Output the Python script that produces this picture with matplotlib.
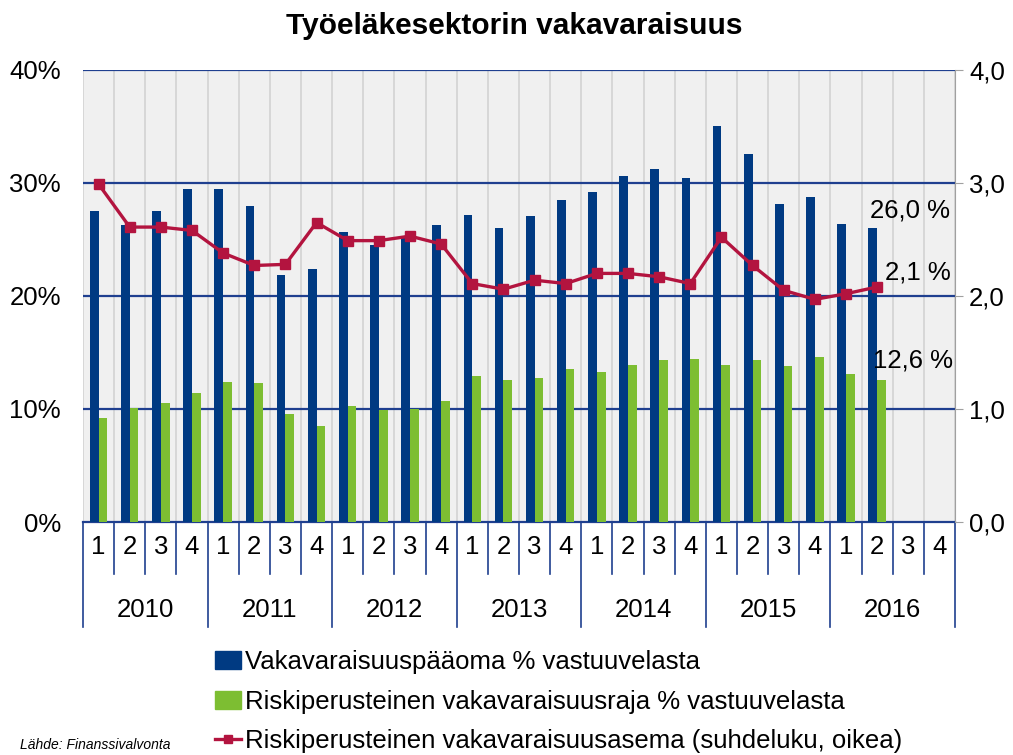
import matplotlib
matplotlib.use("Agg")
import matplotlib.pyplot as plt
from matplotlib.lines import Line2D
from matplotlib.patches import Patch
import matplotlib.transforms as mtransforms
import numpy as np

years = ["2010", "2011", "2012", "2013", "2014", "2015", "2016"]
quarters = ["1", "2", "3", "4"]

# vakavaraisuuspääoma % vastuuvelasta (2016 Q3-Q4 puuttuu)
capital = [27.5, 26.3, 27.5, 29.5,
           29.5, 28.0, 21.9, 22.4,
           25.7, 24.5, 25.2, 26.3,
           27.2, 26.0, 27.1, 28.5,
           29.2, 30.6, 31.2, 30.4,
           35.0, 32.6, 28.1, 28.8,
           26.4, 26.0]
# riskiperusteinen vakavaraisuusraja % vastuuvelasta
limit = [9.2, 10.1, 10.5, 11.4,
         12.4, 12.3, 9.6, 8.5,
         10.3, 9.9, 10.0, 10.7,
         12.9, 12.6, 12.7, 13.5,
         13.3, 13.9, 14.3, 14.4,
         13.9, 14.3, 13.8, 14.6,
         13.1, 12.6]
# suhdeluku (oikea akseli)
ratio = [2.99, 2.61, 2.61, 2.58,
         2.38, 2.27, 2.28, 2.65,
         2.49, 2.49, 2.53, 2.46,
         2.11, 2.06, 2.14, 2.11,
         2.20, 2.20, 2.17, 2.11,
         2.52, 2.27, 2.05, 1.97,
         2.02, 2.08]

left_ticks = [0, 10, 20, 30, 40]
right_ticks = [0.0, 1.0, 2.0, 3.0, 4.0]

BLUE = "#003A82"
GREEN = "#7DBE32"
RED = "#B3143F"
NAVY = "#1F3F8F"
FS = 18.5

plt.rcParams["font.family"] = ["Liberation Sans", "DejaVu Sans"]

fig = plt.figure(figsize=(10.13, 7.55), dpi=100)
ax = fig.add_axes([83 / 1013, 1 - 522 / 755, (955 - 83) / 1013, (522 - 70) / 755])
ax.set_facecolor("#F0F0F0")

n_slots = len(years) * len(quarters)
x = np.arange(len(capital))
w = 0.28
ax.bar(x - w / 2, capital, width=w, color=BLUE, zorder=3)
ax.bar(x + w / 2, limit, width=w, color=GREEN, zorder=3)

for b in np.arange(n_slots + 1) - 0.5:
    ax.axvline(b, color="#D2D2D2", lw=1.2, zorder=1)
for t in left_ticks[1:]:
    ax.axhline(t, color=NAVY, lw=1.6, zorder=2)

ax.set_xlim(-0.5, n_slots - 0.5)
ax.set_ylim(0, 40)
ax.set_yticks(left_ticks)
ax.set_yticklabels([f"{t}%" for t in left_ticks], fontsize=FS)
ax.tick_params(axis="y", length=0, pad=16)
ax.set_xticks([])
for s in ["top", "right", "left"]:
    ax.spines[s].set_visible(False)
ax.spines["bottom"].set_color(NAVY)
ax.spines["bottom"].set_linewidth(1.6)

ax2 = ax.twinx()
ax2.plot(x, ratio, color=RED, lw=2.4, marker="s", markersize=7, zorder=5)
ax2.set_ylim(0, 4)
ax2.set_yticks(right_ticks)
ax2.set_yticklabels([f"{t:.1f}".replace(".", ",") for t in right_ticks], fontsize=FS)
ax2.tick_params(axis="y", length=6, color="#A0A0A0", pad=4)
for s in ["top", "left", "bottom"]:
    ax2.spines[s].set_visible(False)
ax2.spines["right"].set_color("#A0A0A0")

# kaksitasoinen luokka-akseli
trans = mtransforms.blended_transform_factory(ax.transData, ax.transAxes)
for i in range(n_slots):
    ax.text(i, -0.055, quarters[i % 4], transform=trans, ha="center", va="center", fontsize=FS)
    edge = i - 0.5
    depth = -0.232 if i % 4 == 0 else -0.115
    ax.plot([edge, edge], [0, depth], transform=trans, color=NAVY, lw=1.2, clip_on=False)
ax.plot([n_slots - 0.5] * 2, [0, -0.232], transform=trans, color=NAVY, lw=1.2, clip_on=False)
for j, yr in enumerate(years):
    ax.text(j * 4 + 1.5, -0.195, yr, transform=trans, ha="center", va="center", fontsize=FS)

# arvot oikeassa reunassa
ax.text(27.35, 27.6, "26,0 %", ha="right", va="center", fontsize=FS, zorder=6)
ax.text(27.35, 22.1, "2,1 %", ha="right", va="center", fontsize=FS, zorder=6)
ax.text(27.45, 14.3, "12,6 %", ha="right", va="center", fontsize=FS, zorder=6)

fig.text(0.508, 1 - 26 / 755, "Työeläkesektorin vakavaraisuus", ha="center", va="center",
         fontsize=21.5, fontweight="bold")

handles = [
    Patch(color=BLUE),
    Patch(color=GREEN),
    Line2D([], [], color=RED, lw=2.4, marker="s", markersize=6),
]
labels = [
    "Vakavaraisuuspääoma % vastuuvelasta",
    "Riskiperusteinen vakavaraisuusraja % vastuuvelasta",
    "Riskiperusteinen vakavaraisuusasema (suhdeluku, oikea)",
]
fig.legend(handles, labels, loc="upper left", bbox_to_anchor=(205 / 1013, 1 - 640 / 755),
           frameon=False, fontsize=FS, handlelength=1.0, handleheight=0.7,
           handletextpad=0.15, labelspacing=0.6, borderaxespad=0)

fig.text(20 / 1013, 1 - 752 / 755, "Lähde: Finanssivalvonta", ha="left", va="bottom",
         fontsize=10, style="italic")

fig.savefig("out.png", dpi=100)
